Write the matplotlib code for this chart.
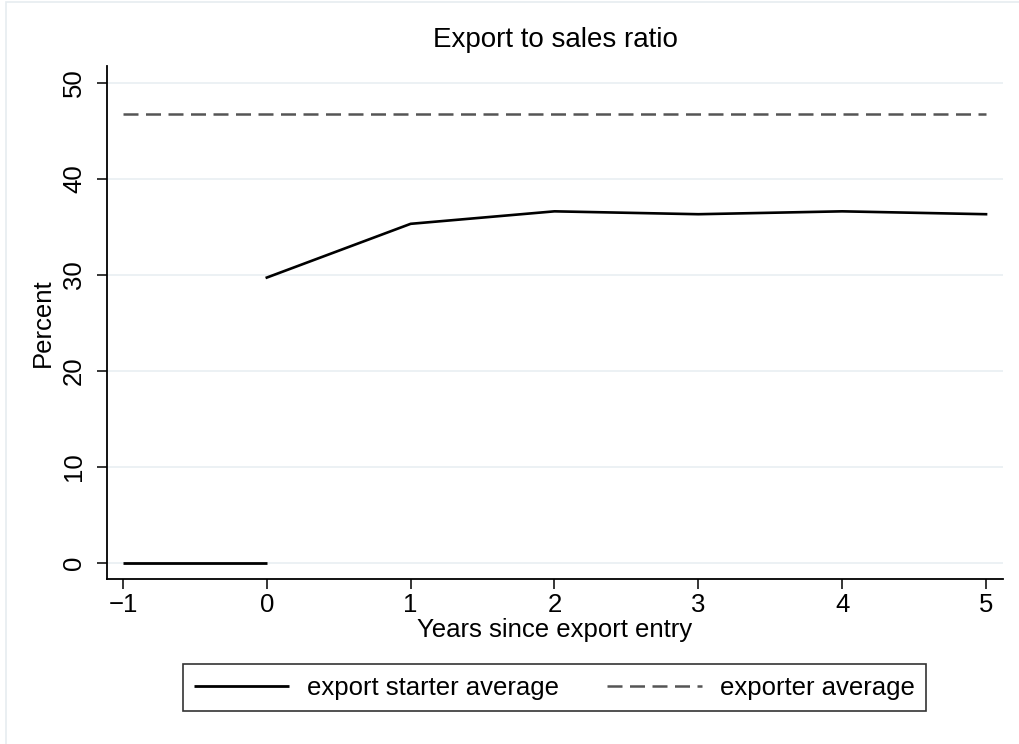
import numpy as np
import matplotlib
matplotlib.use("Agg")
import matplotlib.pyplot as plt
from matplotlib.patches import Rectangle

plt.rcParams['font.family'] = ['Liberation Sans', 'DejaVu Sans']

# export starters: zero before entry, then ratio after entry
pre_years = [-1, 0]
pre_ratio = [0.0, 0.0]
post_years = [0, 1, 2, 3, 4, 5]
post_ratio = [29.7, 35.3, 36.6, 36.3, 36.6, 36.3]
# average across all exporters
avg_years = [-1, 0, 1, 2, 3, 4, 5]
avg_ratio = [46.7] * 7

fig = plt.figure(figsize=(10.2, 7.44), dpi=100)
fig.patches.append(Rectangle((6 / 1020, -0.1), 1.2, 1 - 2 / 744 + 0.1,
                             transform=fig.transFigure, fill=False,
                             edgecolor='#e6ecf0', lw=1.2, zorder=0))

ax = fig.add_axes([107 / 1020, 1 - 579 / 744, (1003 - 107) / 1020, (579 - 66) / 744])

ax.plot(pre_years, pre_ratio, color='black', lw=2.0, solid_capstyle='butt',
        label='export starter average')
ax.plot(post_years, post_ratio, color='black', lw=1.9)
ax.plot(avg_years, avg_ratio, color='#555555', lw=1.8, dashes=(6, 3.0),
        label='exporter average')

ax.set_xlim(-1.111, 5.118)
ax.set_ylim(-1.7, 51.74)
ax.set_xticks(range(-1, 6))
ax.set_xticklabels(['\u22121', '0', '1', '2', '3', '4', '5'])
ax.set_yticks(range(0, 51, 10))
ax.yaxis.grid(True, color='#eaf0f3', lw=1.3)
ax.set_axisbelow(True)

for side in ('top', 'right'):
    ax.spines[side].set_visible(False)
for side in ('left', 'bottom'):
    ax.spines[side].set_linewidth(1.3)

ax.tick_params(axis='both', labelsize=18.5, length=7, width=1.1, direction='out')
ax.tick_params(axis='x', pad=3)
ax.tick_params(axis='y', pad=8)
for lbl in ax.get_yticklabels():
    lbl.set_rotation(90)
    lbl.set_va('center')

ax.set_xlabel('Years since export entry', fontsize=18.5, labelpad=1)
ax.set_ylabel('Percent', fontsize=18.5, labelpad=5)

fig.text(555 / 1020, 1 - 40 / 744, 'Export to sales ratio', fontsize=20,
         ha='center', va='center')

leg = fig.legend(loc='center', bbox_to_anchor=(554.5 / 1020, 1 - 687.5 / 744),
                 ncol=2, fontsize=18.5, frameon=True, fancybox=False,
                 handlelength=3.7, handletextpad=0.7, columnspacing=1.85,
                 borderpad=0.45, borderaxespad=0)
leg.get_frame().set_edgecolor('black')
leg.get_frame().set_linewidth(1.2)

fig.savefig('out.png', dpi=100, facecolor='white')
